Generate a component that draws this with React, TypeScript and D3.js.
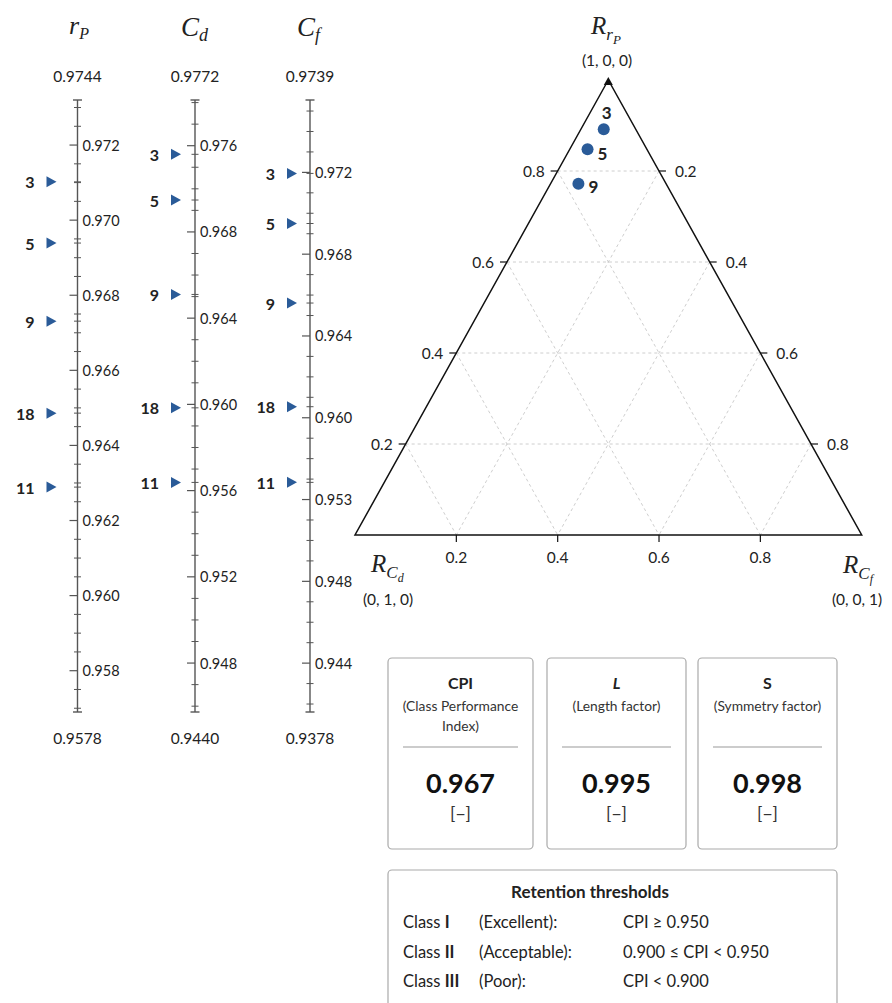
import React from "react";
import * as d3 from "d3";

// ---------- Nomogram data ----------
const sampleIds = ["3", "5", "9", "18", "11"];
const rPValues = [0.97102, 0.96939, 0.96731, 0.96486, 0.96289];
const cdValues = [0.9716, 0.96948, 0.9651, 0.95984, 0.95638];
const cfValues = [0.97195, 0.9695, 0.96561, 0.96054, 0.95684];

const rPTicks = [0.972, 0.97, 0.968, 0.966, 0.964, 0.962, 0.96, 0.958];
const rPTickLabels = ["0.972", "0.970", "0.968", "0.966", "0.964", "0.962", "0.960", "0.958"];
const cdTicks = [0.972, 0.968, 0.964, 0.96, 0.956, 0.952, 0.948];
const cdTickLabels = ["0.976", "0.968", "0.964", "0.960", "0.956", "0.952", "0.948"];
const cfTicks = [0.972, 0.968, 0.964, 0.96, 0.956, 0.952, 0.948];
const cfTickLabels = ["0.972", "0.968", "0.964", "0.960", "0.953", "0.948", "0.944"];

const rPDomain = [0.9732, 0.9569];
const cdDomain = [0.97412, 0.94573];
const cfDomain = [0.97554, 0.94561];
const rPEndLabels = ["0.9744", "0.9578"];
const cdEndLabels = ["0.9772", "0.9440"];
const cfEndLabels = ["0.9739", "0.9378"];
const rPMinorStep = 0.0005;
const cdMinorStep = 0.001;
const cfMinorStep = 0.001;

// ---------- Ternary data ----------
const ternaryIds = ["3", "5", "9"];
const ternaryRP = [0.892, 0.848, 0.772];
const ternaryRCd = [0.063, 0.117, 0.173];
const ternaryRCf = [0.045, 0.035, 0.055];
const ternaryGrid = [0.2, 0.4, 0.6, 0.8];

// ---------- Summary data ----------
const metricNames = ["CPI", "L", "S"];
const metricDescriptions = [["(Class Performance", "Index)"], ["(Length factor)"], ["(Symmetry factor)"]];
const metricValues = [0.967, 0.995, 0.998];
const metricUnits = ["[−]", "[−]", "[−]"];

const thresholdClasses = ["I", "II", "III"];
const thresholdNames = ["(Excellent):", "(Acceptable):", "(Poor):"];
const thresholdRules = ["CPI ≥ 0.950", "0.900 ≤ CPI < 0.950", "CPI < 0.900"];

// ---------- Styles ----------
const SANS = "Lato, 'Noto Sans', sans-serif";
const SERIF = "'Liberation Serif', 'DejaVu Serif', serif";
const INK = "#222";
const AXIS = "#555";
const BLUE = "#2a5b98";

const W = 892;
const H = 1003;
const AXIS_TOP = 100;
const AXIS_BOTTOM = 712;

type AxisProps = {
  x: number;
  title: React.ReactNode;
  domain: number[];
  ticks: number[];
  labels: string[];
  minorStep: number;
  ends: string[];
  values: number[];
  ids: string[];
  markerGap: number;
};

function NomoAxis({ x, title, domain, ticks, labels, minorStep, ends, values, ids, markerGap }: AxisProps) {
  const y = d3.scaleLinear().domain(domain).range([AXIS_TOP, AXIS_BOTTOM]);
  const lo = Math.min(domain[0], domain[1]);
  const hi = Math.max(domain[0], domain[1]);
  const kMin = Math.ceil(lo / minorStep - 1e-6);
  const kMax = Math.floor(hi / minorStep + 1e-6);
  const minors = d3
    .range(kMin, kMax + 1)
    .map((k) => k * minorStep)
    .filter((v) => ticks.every((t) => Math.abs(t - v) > minorStep / 4));
  return (
    <g>
      {title}
      <text x={x} y={76} textAnchor="middle" dominantBaseline="central" fontFamily={SANS} fontSize={15.5} fill={INK}>
        {ends[0]}
      </text>
      <text x={x} y={738} textAnchor="middle" dominantBaseline="central" fontFamily={SANS} fontSize={15.5} fill={INK}>
        {ends[1]}
      </text>
      <line x1={x} x2={x} y1={AXIS_TOP} y2={AXIS_BOTTOM} stroke={AXIS} strokeWidth={1.4} />
      <line x1={x - 4.5} x2={x + 4.5} y1={AXIS_TOP} y2={AXIS_TOP} stroke={AXIS} strokeWidth={1.4} />
      <line x1={x - 4.5} x2={x + 4.5} y1={AXIS_BOTTOM} y2={AXIS_BOTTOM} stroke={AXIS} strokeWidth={1.4} />
      {minors.map((v, i) => (
        <line key={"m" + i} x1={x - 3.5} x2={x + 3.5} y1={y(v)} y2={y(v)} stroke={AXIS} strokeWidth={1} />
      ))}
      {values.map((v, i) => (
        <line key={"v" + i} x1={x - 3.5} x2={x + 3.5} y1={y(v)} y2={y(v)} stroke={AXIS} strokeWidth={1} />
      ))}
      {ticks.map((t, i) => (
        <g key={"t" + i}>
          <line x1={x - 8} x2={x} y1={y(t)} y2={y(t)} stroke={AXIS} strokeWidth={1.2} />
          <text x={x + 5} y={y(t)} dominantBaseline="central" fontFamily={SANS} fontSize={14.5} fill={INK}>
            {labels[i]}
          </text>
        </g>
      ))}
      {values.map((v, i) => {
        const tip = x - markerGap;
        const yy = y(v);
        return (
          <g key={"p" + i}>
            <path d={`M${tip - 10},${yy - 5.5}L${tip},${yy}L${tip - 10},${yy + 5.5}Z`} fill={BLUE} />
            <text
              x={tip - 22}
              y={yy}
              textAnchor="end"
              dominantBaseline="central"
              fontFamily={SANS}
              fontWeight={700}
              fontSize={16}
              fill={INK}
            >
              {ids[i]}
            </text>
          </g>
        );
      })}
    </g>
  );
}

function Ternary() {
  const A = { x: 608.3, y: 80 };
  const B = { x: 355, y: 535 };
  const C = { x: 861.7, y: 535 };
  const proj = (a: number, b: number, c: number) => ({
    x: a * A.x + b * B.x + c * C.x,
    y: a * A.y + b * B.y + c * C.y,
  });
  const line = d3.line<{ x: number; y: number }>().x((d) => d.x).y((d) => d.y);
  const fmt = d3.format(".1f");
  const gridLines: { p: { x: number; y: number }[] }[] = [];
  ternaryGrid.forEach((v) => {
    gridLines.push({ p: [proj(v, 1 - v, 0), proj(v, 0, 1 - v)] });
    gridLines.push({ p: [proj(1 - v, v, 0), proj(0, v, 1 - v)] });
    gridLines.push({ p: [proj(1 - v, 0, v), proj(0, 1 - v, v)] });
  });
  const labelOffsets = [
    { dx: 3, dy: -17, anchor: "middle" },
    { dx: 10, dy: 4, anchor: "start" },
    { dx: 10, dy: 3, anchor: "start" },
  ];
  return (
    <g>
      {gridLines.map((g, i) => (
        <path key={i} d={line(g.p) || ""} stroke="#c8c8c8" strokeWidth={0.9} strokeDasharray="3,3" fill="none" />
      ))}
      <path d={line([A, B, C])! + "Z"} fill="none" stroke="#111" strokeWidth={1.5} strokeLinejoin="miter" />
      <path d={`M${A.x},${A.y - 3}L${A.x + 4.5},${A.y + 5}L${A.x - 4.5},${A.y + 5}Z`} fill="#111" />
      {ternaryGrid.map((v) => {
        const pl = proj(v, 1 - v, 0);
        const pr = proj(1 - v, 0, v);
        const pb = proj(0, 1 - v, v);
        return (
          <g key={v}>
            <line x1={pl.x - 7} x2={pl.x} y1={pl.y} y2={pl.y} stroke="#111" strokeWidth={1.2} />
            <text x={pl.x - 13} y={pl.y} textAnchor="end" dominantBaseline="central" fontFamily={SANS} fontSize={15.5} fill={INK}>
              {fmt(v)}
            </text>
            <line x1={pr.x} x2={pr.x + 7} y1={pr.y} y2={pr.y} stroke="#111" strokeWidth={1.2} />
            <text x={pr.x + 16} y={pr.y} textAnchor="start" dominantBaseline="central" fontFamily={SANS} fontSize={15.5} fill={INK}>
              {fmt(v)}
            </text>
            <line x1={pb.x} x2={pb.x} y1={pb.y} y2={pb.y + 7} stroke="#111" strokeWidth={1.2} />
            <text x={pb.x} y={pb.y + 22} textAnchor="middle" dominantBaseline="central" fontFamily={SANS} fontSize={15.5} fill={INK}>
              {fmt(v)}
            </text>
          </g>
        );
      })}
      {ternaryIds.map((id, i) => {
        const p = proj(ternaryRP[i], ternaryRCd[i], ternaryRCf[i]);
        const o = labelOffsets[i];
        return (
          <g key={id}>
            <circle cx={p.x} cy={p.y} r={6} fill={BLUE} />
            <text
              x={p.x + o.dx}
              y={p.y + o.dy}
              textAnchor={o.anchor as any}
              dominantBaseline="central"
              fontFamily={SANS}
              fontWeight={700}
              fontSize={17}
              fill={INK}
            >
              {id}
            </text>
          </g>
        );
      })}
      {/* Vertex labels */}
      <text x={591} y={34} fontFamily={SERIF} fontStyle="italic" fontSize={25} fill={INK}>
        R
        <tspan fontSize={17} dy={6}>r</tspan>
        <tspan fontSize={13} dy={4}>P</tspan>
      </text>
      <text x={607} y={60} textAnchor="middle" dominantBaseline="central" fontFamily={SANS} fontSize={15.5} fill={INK}>
        (1, 0, 0)
      </text>
      <text x={371} y={572} fontFamily={SERIF} fontStyle="italic" fontSize={25} fill={INK}>
        R
        <tspan fontSize={17} dy={6}>C</tspan>
        <tspan fontSize={12} dy={4}>d</tspan>
      </text>
      <text x={388} y={599} textAnchor="middle" dominantBaseline="central" fontFamily={SANS} fontSize={15.5} fill={INK}>
        (0, 1, 0)
      </text>
      <text x={843} y={573} fontFamily={SERIF} fontStyle="italic" fontSize={25} fill={INK}>
        R
        <tspan fontSize={17} dy={6}>C</tspan>
        <tspan fontSize={12} dy={4}>f</tspan>
      </text>
      <text x={857} y={599} textAnchor="middle" dominantBaseline="central" fontFamily={SANS} fontSize={15.5} fill={INK}>
        (0, 0, 1)
      </text>
    </g>
  );
}

function Summary() {
  const boxX = [388, 547, 698];
  const boxW = [145, 139, 139];
  const fmt = d3.format(".3f");
  return (
    <g>
      {metricNames.map((name, i) => {
        const cx = boxX[i] + boxW[i] / 2;
        const desc = metricDescriptions[i];
        return (
          <g key={name}>
            <rect x={boxX[i]} y={658} width={boxW[i]} height={191} rx={4} fill="#fff" stroke="#aaa" strokeWidth={1.2} />
            <text
              x={cx}
              y={682}
              textAnchor="middle"
              dominantBaseline="central"
              fontFamily={SANS}
              fontWeight={700}
              fontStyle={name === "L" ? "italic" : "normal"}
              fontSize={16}
              fill={INK}
            >
              {name}
            </text>
            {desc.map((d, j) => (
              <text key={j} x={cx} y={705 + j * 20} textAnchor="middle" dominantBaseline="central" fontFamily={SANS} fontSize={13.8} fill="#333">
                {d}
              </text>
            ))}
            <line x1={boxX[i] + 15} x2={boxX[i] + boxW[i] - 15} y1={747} y2={747} stroke="#999" strokeWidth={1} />
            <text x={cx} y={782} textAnchor="middle" dominantBaseline="central" fontFamily={SANS} fontWeight={700} fontSize={27} fill="#111">
              {fmt(metricValues[i])}
            </text>
            <text x={cx} y={813} textAnchor="middle" dominantBaseline="central" fontFamily={SANS} fontSize={17.5} fill="#333">
              {metricUnits[i]}
            </text>
          </g>
        );
      })}
      <rect x={388} y={870} width={449} height={160} rx={4} fill="#fff" stroke="#aaa" strokeWidth={1.2} />
      <text x={590} y={891} textAnchor="middle" dominantBaseline="central" fontFamily={SANS} fontWeight={700} fontSize={17} fill={INK}>
        Retention thresholds
      </text>
      {thresholdClasses.map((c, i) => {
        const yy = 922 + i * 29.7;
        return (
          <g key={c}>
            <text x={403} y={yy} dominantBaseline="central" fontFamily={SANS} fontSize={16.5} fill={INK}>
              Class <tspan fontWeight={700}>{c}</tspan>
            </text>
            <text x={479} y={yy} dominantBaseline="central" fontFamily={SANS} fontSize={16.5} fill={INK}>
              {thresholdNames[i]}
            </text>
            <text x={623} y={yy} dominantBaseline="central" fontFamily={SANS} fontSize={16.5} fill={INK}>
              {thresholdRules[i]}
            </text>
          </g>
        );
      })}
    </g>
  );
}

export default function App() {
  const titleStyle = { fontFamily: SERIF, fontStyle: "italic" as const, fill: INK };
  return (
    <svg
      width={W}
      height={H}
      viewBox={`0 0 ${W} ${H}`}
      style={{ position: "absolute", left: 0, top: 0, background: "#fff" }}
    >
      <rect x={0} y={0} width={W} height={H} fill="#fff" />
      <NomoAxis
        x={77.5}
        title={
          <text x={69} y={34} {...titleStyle} fontSize={26}>
            r<tspan fontSize={16} dy={5}>P</tspan>
          </text>
        }
        domain={rPDomain}
        ticks={rPTicks}
        labels={rPTickLabels}
        minorStep={rPMinorStep}
        ends={rPEndLabels}
        values={rPValues}
        ids={sampleIds}
        markerGap={21}
      />
      <NomoAxis
        x={195}
        title={
          <text x={181} y={36} {...titleStyle} fontSize={27}>
            C<tspan fontSize={18} dy={5}>d</tspan>
          </text>
        }
        domain={cdDomain}
        ticks={cdTicks}
        labels={cdTickLabels}
        minorStep={cdMinorStep}
        ends={cdEndLabels}
        values={cdValues}
        ids={sampleIds}
        markerGap={14}
      />
      <NomoAxis
        x={310}
        title={
          <text x={297} y={36} {...titleStyle} fontSize={27}>
            C<tspan fontSize={18} dy={5}>f</tspan>
          </text>
        }
        domain={cfDomain}
        ticks={cfTicks}
        labels={cfTickLabels}
        minorStep={cfMinorStep}
        ends={cfEndLabels}
        values={cfValues}
        ids={sampleIds}
        markerGap={13}
      />
      <Ternary />
      <Summary />
    </svg>
  );
}
